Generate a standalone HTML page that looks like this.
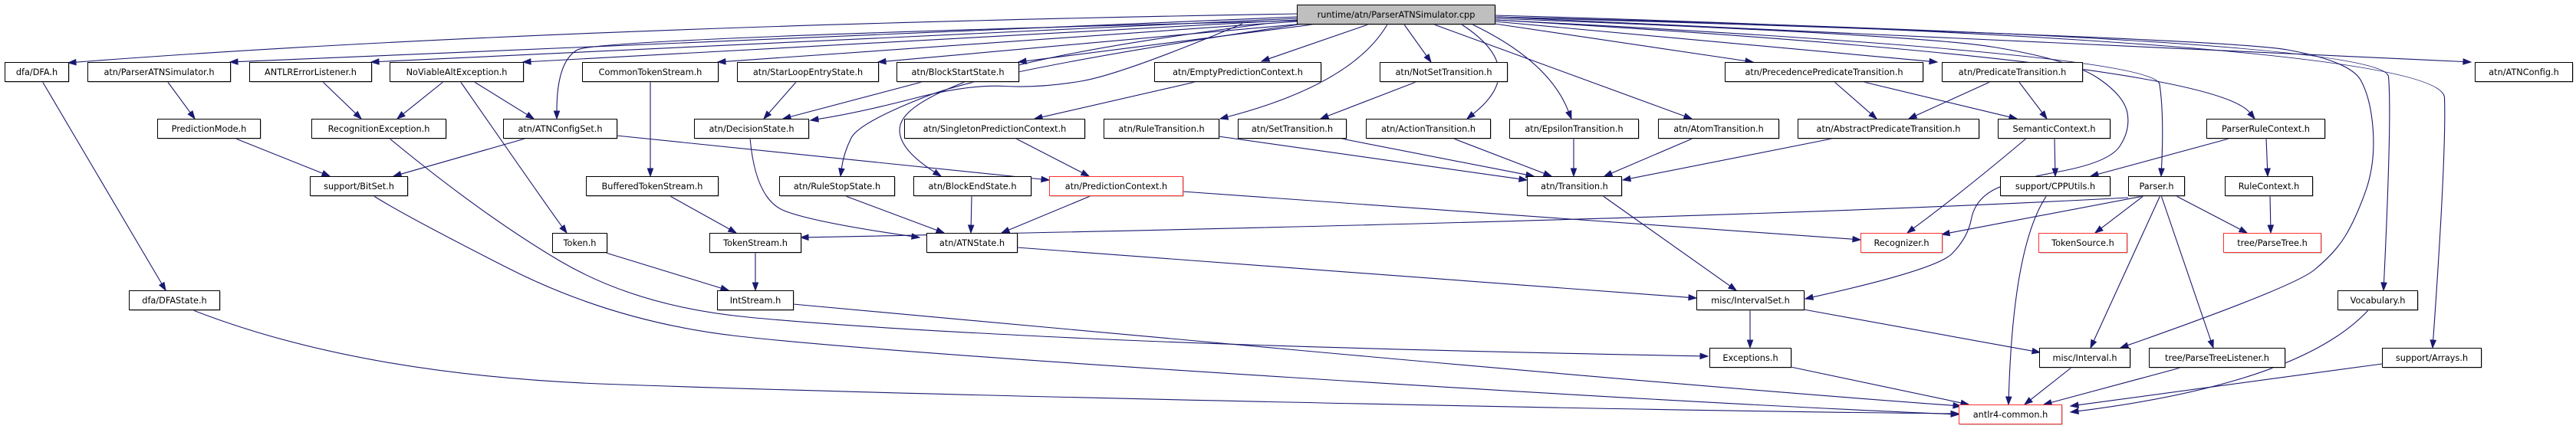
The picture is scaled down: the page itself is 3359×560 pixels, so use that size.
<!DOCTYPE html>
<html><head><meta charset="utf-8">
<style>
html,body{margin:0;padding:0;background:#fff;width:3359px;height:560px;overflow:hidden}
svg{display:block}
text{font-family:"DejaVu Sans","Liberation Sans",sans-serif;font-size:11.3px;fill:#000}
</style></head>
<body>
<svg id="g" width="3359" height="560" viewBox="0 0 3359 560" xmlns="http://www.w3.org/2000/svg"></svg>
<script>
var R=[6,81,155,230,304,379,454,528];
var N={
root:[1691,1949,0,'runtime/atn/ParserATNSimulator.cpp','g'],
dfa:[6,89,1,'dfa/DFA.h'],
pas:[114,300,1,'atn/ParserATNSimulator.h'],
ael:[325,484,1,'ANTLRErrorListener.h'],
nva:[508,682,1,'NoViableAltException.h'],
cts:[759,936,1,'CommonTokenStream.h'],
sle:[961,1145,1,'atn/StarLoopEntryState.h'],
bss:[1169,1328,1,'atn/BlockStartState.h'],
epc:[1505,1722,1,'atn/EmptyPredictionContext.h'],
nst:[1799,1965,1,'atn/NotSetTransition.h'],
ppt:[2249,2507,1,'atn/PrecedencePredicateTransition.h'],
prt:[2532,2715,1,'atn/PredicateTransition.h'],
acf:[3227,3354,1,'atn/ATNConfig.h'],
pm:[205,339,2,'PredictionMode.h'],
re:[406,581,2,'RecognitionException.h'],
acs:[656,804,2,'atn/ATNConfigSet.h'],
ds:[905,1054,2,'atn/DecisionState.h'],
spc:[1179,1414,2,'atn/SingletonPredictionContext.h'],
rt:[1439,1589,2,'atn/RuleTransition.h'],
st:[1614,1755,2,'atn/SetTransition.h'],
at:[1781,1943,2,'atn/ActionTransition.h'],
et:[1968,2136,2,'atn/EpsilonTransition.h'],
amt:[2162,2319,2,'atn/AtomTransition.h'],
apt:[2344,2580,2,'atn/AbstractPredicateTransition.h'],
sc:[2605,2751,2,'SemanticContext.h'],
prc:[2877,3031,2,'ParserRuleContext.h'],
bs:[404,531,3,'support/BitSet.h'],
bts:[764,936,3,'BufferedTokenStream.h'],
rss:[1016,1166,3,'atn/RuleStopState.h'],
bes:[1191,1344,3,'atn/BlockEndState.h'],
pc:[1368,1542,3,'atn/PredictionContext.h','r'],
tr:[1991,2114,3,'atn/Transition.h'],
cpp:[2608,2751,3,'support/CPPUtils.h'],
par:[2775,2848,3,'Parser.h'],
rc:[2901,3015,3,'RuleContext.h'],
tok:[720,791,4,'Token.h'],
ts:[925,1044,4,'TokenStream.h'],
as:[1208,1326,4,'atn/ATNState.h'],
rec:[2426,2532,4,'Recognizer.h','r'],
tsrc:[2658,2773,4,'TokenSource.h','r'],
pt:[2899,3026,4,'tree/ParseTree.h','r'],
dfs:[168,286,5,'dfa/DFAState.h'],
is:[935,1034,5,'IntStream.h'],
iset:[2212,2352,5,'misc/IntervalSet.h'],
voc:[3048,3152,5,'Vocabulary.h'],
exc:[2229,2335,6,'Exceptions.h'],
iv:[2659,2777,6,'misc/Interval.h'],
ptl:[2802,2979,6,'tree/ParseTreeListener.h'],
arr:[3106,3235,6,'support/Arrays.h'],
ac:[2554,2688,7,'antlr4-common.h','r']
};
var E=[
[1691,18,700,35,89,82],
[1691,22,300,81],
[1691,24,484,81],
[1691,26,682,81],
[1691,28,936,81],
[1700,31,1145,81],
[1720,31,1328,81],
[1691,27,780,50,726,80,726,155],
[1620,31,1463,97,1356,115,1263,110,1120,147,1057,157],
[1700,31,1300,90,1120,160,1100,200,1096,230],
[1650,31,1370,67,1184,133,1165,190,1227,230],
[1784,32,1645,80],
[1809,32,1763,110,1591,155],
[1831,32,1866,81],
[1906,32,1995,90,1913,155],
[1920,32,2020,80,2049,155],
[1870,32,2206,155],
[1949,31,2286,81],
[1949,28,2526,81],
[1949,22,3222,81],
[1949,24,2500,45,2700,78,2770,125,2778,170,2750,212,2620,236,2575,262,2566,310,2525,352,2354,390],
[1949,26,2810,70,2822,150,2818,230],
[1949,26,2880,80,2940,155],
[1949,22,2900,50,3065,80,3092,130,3097,215,3072,285,3045,330,2990,375,2765,454],
[1949,22,3110,50,3119,150,3108,379],
[1949,20,3185,55,3190,200,3172,454],
[218,106,254,155],
[305,180,430,230],
[420,106,471,155],
[579,106,518,155],
[617,106,696,155],
[600,106,721,280,739,304],
[486,255,525,280,800,420,1120,457,2240,528,2554,541],
[507,180,628,280,830,400,1120,428,1700,455,2227,465],
[1034,397,1120,405,2240,507,2557,530],
[252,405,470,490,1120,513,2240,537,2554,540],
[55,106,216,379],
[688,180,513,230],
[804,177,1368,235],
[848,106,848,230],
[872,255,960,304],
[1039,106,996,155],
[1206,106,1021,155],
[978,180,985,260,1060,290,1199,310],
[1100,255,1231,304],
[1267,255,1266,304],
[1424,255,1306,304],
[1542,250,2240,298,2426,313],
[1563,106,1349,155],
[1323,180,1420,230],
[1589,178,1991,235],
[1744,180,2000,230],
[1849,106,1722,155],
[1893,180,2023,230],
[2052,180,2052,230],
[2209,180,2092,230],
[2394,180,2116,235],
[2391,106,2447,155],
[2426,106,2630,155],
[2597,106,2489,155],
[2632,106,2669,155],
[2643,180,2560,250,2487,304],
[2679,180,2680,230],
[2910,180,2726,230],
[2955,180,2957,230],
[2960,255,2961,304],
[2669,255,2625,320,2619,528],
[2775,258,2240,287,1044,310],
[2800,255,2532,306],
[2796,255,2732,304],
[2836,255,2930,304],
[2817,255,2726,454],
[2818,255,2886,454],
[2089,255,2264,379],
[1326,323,2212,389],
[790,330,950,379],
[985,330,985,379],
[2282,405,2282,454],
[2352,404,2660,460],
[2335,479,2567,528],
[2702,479,2640,528],
[2847,479,2665,528],
[3106,475,2700,530],
[3088,405,3000,500,2700,538]
];
var s='';
var col='#191970';
E.forEach(function(e){
  var p=[];for(var i=0;i<e.length;i+=2)p.push([e[i],e[i+1]]);
  var n=p.length,t=p[n-1],q=p[n-2];
  var dx=t[0]-q[0],dy=t[1]-q[1],L=Math.sqrt(dx*dx+dy*dy),ux=dx/L,uy=dy/L;
  var bx=t[0]-ux*10,by=t[1]-uy*10;
  var pts=p.slice();pts[n-1]=[bx,by];
  var d='M'+pts[0][0]+','+pts[0][1];
  if(n==2){d+=' L'+bx.toFixed(1)+','+by.toFixed(1);}
  else{
    for(var i=1;i<n-1;i++){
      var c=pts[i],nx=pts[i+1];
      var m=(i==n-2)?nx:[(c[0]+nx[0])/2,(c[1]+nx[1])/2];
      d+=' Q'+c[0]+','+c[1]+' '+m[0].toFixed(1)+','+m[1].toFixed(1);
    }
  }
  s+='<path d="'+d+'" fill="none" stroke="'+col+'" stroke-width="1.1"/>';
  var px=-uy,py=ux;
  s+='<polygon points="'+t[0]+','+t[1]+' '+(bx+px*3.6).toFixed(1)+','+(by+py*3.6).toFixed(1)+' '+(bx-px*3.6).toFixed(1)+','+(by-py*3.6).toFixed(1)+'" fill="'+col+'" stroke="'+col+'"/>';
});
for(var k in N){
  var v=N[k],x=v[0],w=v[1]-v[0],y=R[v[2]],h=25;
  var fill=v[4]=='g'?'#bfbfbf':'#fff',st=v[4]=='r'?'#ff3030':'#000';
  s+='<rect x="'+(x+1.5)+'" y="'+(y+1.5)+'" width="'+w+'" height="'+h+'" fill="#999"/>';
  s+='<rect x="'+(x+0.5)+'" y="'+(y+0.5)+'" width="'+w+'" height="'+h+'" fill="'+fill+'" stroke="'+st+'" stroke-width="1"/>';
  s+='<text x="'+(x+w/2+0.5)+'" y="'+(y+17)+'" text-anchor="middle">'+v[3]+'</text>';
}
document.getElementById('g').innerHTML=s;
</script>
</body></html>
